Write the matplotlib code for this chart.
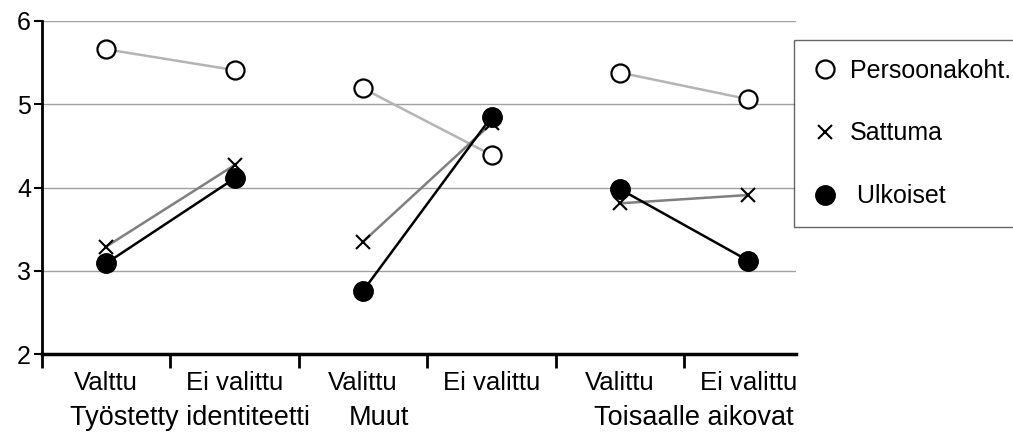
import matplotlib
matplotlib.use("Agg")
import matplotlib.pyplot as plt
import numpy as np

plt.rcParams['font.family'] = ['Liberation Sans', 'DejaVu Sans']

# Data
categories = ['Valttu', 'Ei valittu', 'Valittu', 'Ei valittu', 'Valittu', 'Ei valittu']
groups = ['Työstetty identiteetti', 'Muut', 'Toisaalle aikovat']
persoona = [5.66, 5.41, 5.19, 4.39, 5.38, 5.06]
sattuma = [3.29, 4.27, 3.35, 4.77, 3.81, 3.91]
ulkoiset = [3.09, 4.11, 2.76, 4.85, 3.98, 3.12]

series = [
    ('Persoonakoht.', persoona, '#b4b4b4', dict(marker='o', markersize=13, markerfacecolor='white',
                                                markeredgecolor='black', markeredgewidth=1.6)),
    ('Sattuma', sattuma, '#7f7f7f', dict(marker='x', markersize=10, markeredgecolor='black',
                                         markeredgewidth=1.5)),
    (' Ulkoiset', ulkoiset, 'black', dict(marker='o', markersize=14, markerfacecolor='black',
                                           markeredgecolor='black')),
]

fig = plt.figure(figsize=(10.13, 4.32), dpi=100)
ax = fig.add_axes([42 / 1013, 1 - 354 / 432, (796 - 42) / 1013, (354 - 21) / 432])

x = np.arange(len(categories))
handles = []
for label, vals, lcolor, mstyle in series:
    for g in range(len(groups)):
        xs = x[2 * g:2 * g + 2]
        ys = vals[2 * g:2 * g + 2]
        ax.plot(xs, ys, color=lcolor, linewidth=1.8, zorder=3, **mstyle)
    h, = ax.plot([], [], linestyle='none', **mstyle)
    handles.append((h, label))

ax.set_ylim(2, 6)
ax.set_yticks([2, 3, 4, 5, 6])
ax.set_xlim(-0.5, 5.37)
ax.set_xticks(np.arange(-0.5, 5, 1.0))
ax.set_xticklabels([])
ax.set_xticks(x, minor=True)
ax.set_xticklabels(categories, minor=True)
ax.tick_params(axis='x', which='major', length=10, width=2, direction='out')
ax.tick_params(axis='x', which='minor', length=0, pad=12, labelsize=18.5)
ax.tick_params(axis='y', length=6, width=1.5, labelsize=18, pad=2)

ax.yaxis.grid(True, color='#a0a0a0', linewidth=1)
ax.set_axisbelow(True)
for s in ['top', 'right']:
    ax.spines[s].set_visible(False)
ax.spines['left'].set_linewidth(2)
ax.spines['bottom'].set_linewidth(2.5)

# group labels below the category labels
group_x = [70, 349, 594]
for gx, gname in zip(group_x, groups):
    fig.text(gx / 1013, 1 - 418 / 432, gname, fontsize=19.5, ha='left', va='center')

leg = fig.legend([h for h, _ in handles], [l for _, l in handles],
                 loc='upper left', bbox_to_anchor=(794 / 1013, 1 - 40 / 432),
                 frameon=True, fancybox=False, edgecolor='#404040', fontsize=18,
                 labelspacing=1.55, handlelength=1.0, handletextpad=0.5,
                 borderpad=0.75, borderaxespad=0)
leg.get_frame().set_linewidth(1)

fig.savefig('out.png', dpi=100)
